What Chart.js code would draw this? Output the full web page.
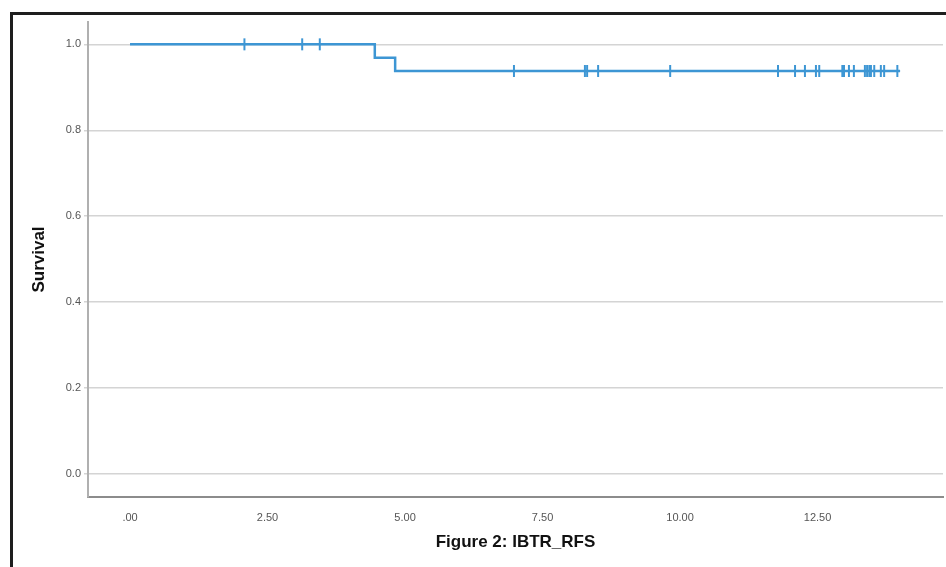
<!DOCTYPE html>
<html>
<head>
<meta charset="utf-8">
<script src="https://cdn.jsdelivr.net/npm/chart.js@4/dist/chart.umd.min.js"></script>
<style>
	html, body { margin: 0; padding: 0; background: #fff; }
	#wrap { position: relative; width: 946px; height: 567px; overflow: hidden; }
	#frame { position: absolute; left: 10px; top: 12px; width: 1000px; height: 600px;
		border-left: 3px solid #1e1e1e; border-top: 3px solid #1e1e1e; }
	#chart { position: absolute; left: 0; top: 0; }
</style>
</head>
<body>
<div id="wrap">
	<div id="frame"></div>
	<!-- a little wider than the page, the plot runs right to the edge -->
	<canvas id="chart" width="951" height="567"></canvas>
</div>
<script>
// Kaplan-Meier curve
var curveTimes = [0, 4.45, 4.82, 14.0];
var curveSurvival = [1.0, 0.969, 0.938, 0.938];

// censored cases (tick marks on the curve)
var censorTimes = [2.08, 3.13, 3.45, 6.98, 8.27, 8.31, 8.51, 9.82, 11.78, 12.09, 12.27,
	12.47, 12.53, 12.95, 12.98, 13.07, 13.16, 13.36, 13.40, 13.44, 13.47, 13.53, 13.65,
	13.71, 13.95];
var censorSurvival = [1.0, 1.0, 1.0, 0.938, 0.938, 0.938, 0.938, 0.938, 0.938, 0.938, 0.938,
	0.938, 0.938, 0.938, 0.938, 0.938, 0.938, 0.938, 0.938, 0.938, 0.938, 0.938, 0.938,
	0.938, 0.938];

var xTickValues = [0, 2.5, 5, 7.5, 10, 12.5];
var xTickLabels = ['.00', '2.50', '5.00', '7.50', '10.00', '12.50'];
var yTickValues = [0, 0.2, 0.4, 0.6, 0.8, 1.0];
var yTickLabels = ['0.0', '0.2', '0.4', '0.6', '0.8', '1.0'];

var lineColor = '#3d96d4';

function toPoints(xs, ys) {
	return xs.map(function(x, i) { return {x: x, y: ys[i]}; });
}

var tickFont = {family: 'Liberation Sans, Arial, sans-serif', size: 11};
var titleFont = {family: 'Liberation Sans, Arial, sans-serif', size: 17, weight: 'bold'};

new Chart(document.getElementById('chart'), {
	type: 'scatter',
	data: {
		datasets: [{
			label: 'IBTR_RFS',
			data: toPoints(curveTimes, curveSurvival),
			showLine: true,
			stepped: true,
			borderColor: lineColor,
			borderWidth: 2.5,
			pointRadius: 0,
			fill: false
		}, {
			label: 'Censored',
			data: toPoints(censorTimes, censorSurvival),
			showLine: false,
			pointStyle: 'line',
			rotation: 90,
			pointRadius: 6,
			borderColor: lineColor,
			backgroundColor: lineColor,
			borderWidth: 2
		}]
	},
	options: {
		responsive: false,
		animation: false,
		events: [],
		layout: {padding: {left: 0, top: 22, right: 3, bottom: 0}},
		plugins: {legend: {display: false}, tooltip: {enabled: false}},
		scales: {
			x: {
				type: 'linear',
				min: -0.764,
				max: 14.78,
				afterBuildTicks: function(scale) {
					scale.ticks = xTickValues.map(function(v) { return {value: v}; });
				},
				afterFit: function(scale) { scale.height = 70; },
				grid: {display: false},
				border: {display: true, color: '#8c8c8c', width: 2},
				ticks: {
					font: tickFont,
					color: '#555',
					padding: 6,
					maxRotation: 0,
					callback: function(v, i) { return xTickLabels[i]; }
				},
				title: {
					display: true,
					text: 'Figure 2: IBTR_RFS',
					font: titleFont,
					color: '#111',
					padding: {top: 0, bottom: 14}
				}
			},
			y: {
				type: 'linear',
				min: -0.0535,
				max: 1.052,
				afterBuildTicks: function(scale) {
					scale.ticks = yTickValues.map(function(v) { return {value: v}; });
				},
				afterFit: function(scale) { scale.width = 88; },
				grid: {color: '#d4d4d4', lineWidth: 1.5, drawTicks: true, tickLength: 4},
				border: {display: true, color: '#b0b0b0', width: 2},
				ticks: {
					font: tickFont,
					color: '#555',
					padding: 3,
					callback: function(v, i) { return yTickLabels[i]; }
				},
				title: {
					display: true,
					text: 'Survival',
					font: titleFont,
					color: '#111',
					padding: {top: 29, bottom: 0}
				}
			}
		}
	}
});
</script>
</body>
</html>
